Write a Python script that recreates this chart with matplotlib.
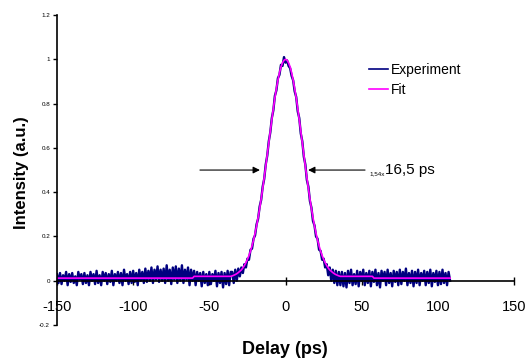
import numpy as np
import matplotlib
matplotlib.use("Agg")
import matplotlib.pyplot as plt

plt.rcParams['font.family'] = ['Liberation Sans', 'DejaVu Sans']

# delay grid of the measured trace (1 ps steps)
delay = np.arange(-150, 109)

exp_left = [
    0.03, -0.01, 0.035, -0.015, 0.025, 0.00, 0.04, -0.02, 0.03, -0.005,
    0.035, -0.01, 0.02, -0.02, 0.04, 0.005, 0.03, -0.015, 0.035, -0.01,
    0.025, -0.02, 0.04, 0.00, 0.03, -0.015, 0.045, -0.01, 0.025, -0.02,
    0.04, 0.00, 0.035, -0.015, 0.03, -0.005, 0.045, -0.02, 0.03, 0.00,
    0.04, -0.01, 0.035, -0.02, 0.05, 0.00, 0.03, -0.015, 0.04, -0.01,
    0.045, -0.005, 0.035, -0.02, 0.05, 0.00, 0.04, -0.01, 0.055, -0.005,
    0.045, 0.00, 0.06, -0.01, 0.05, 0.005, 0.065, -0.005, 0.05, 0.00,
    0.055, -0.01, 0.07, 0.00, 0.05, -0.015, 0.06, 0.005, 0.065, -0.01,
    0.055, 0.00, 0.07, -0.01, 0.05, 0.005, 0.06, -0.02, 0.05, 0.00,
    0.045, -0.02, 0.04, 0.00, 0.035, -0.025, 0.04, -0.01, 0.03, -0.02,
    0.04, -0.015, 0.03, 0.00, 0.045, -0.025, 0.035, -0.01, 0.04, -0.03,
    0.035, -0.015, 0.045, -0.02, 0.04,
]
exp_peak = [
    0.04, -0.01, 0.05, 0.00, 0.055, 0.02, 0.06, 0.035, 0.075, 0.06,
    0.10, 0.095, 0.14, 0.145, 0.19, 0.205, 0.255, 0.28, 0.335, 0.365,
    0.425, 0.46, 0.525, 0.565, 0.63, 0.67, 0.735, 0.77, 0.835, 0.86,
    0.915, 0.93, 0.975, 0.97, 1.01, 0.985, 0.995, 0.97, 0.96, 0.925,
    0.905, 0.855, 0.83, 0.765, 0.735, 0.665, 0.63, 0.56, 0.525, 0.455,
    0.425, 0.36, 0.33, 0.27, 0.25, 0.20, 0.19, 0.14, 0.135, 0.095,
    0.10, 0.06, 0.075, 0.025, 0.06, 0.00, 0.05, -0.01, 0.045, -0.02,
    0.04,
]
exp_right = [
    -0.02, 0.04, -0.025, 0.035, -0.03, 0.045, -0.01, 0.05, -0.02, 0.03,
    -0.015, 0.045, -0.025, 0.04, 0.00, 0.05, -0.02, 0.035, -0.01, 0.045,
    -0.025, 0.04, -0.005, 0.05, -0.02, 0.035, -0.03, 0.045, 0.00, 0.04,
    -0.02, 0.05, -0.01, 0.035, -0.025, 0.045, -0.005, 0.04, -0.02, 0.05,
    -0.015, 0.04, 0.00, 0.055, -0.02, 0.035, -0.01, 0.045, -0.025, 0.04,
    -0.01, 0.05, -0.02, 0.035, 0.00, 0.045, -0.02, 0.04, -0.01, 0.05,
    -0.025, 0.035, -0.005, 0.045, -0.02, 0.04, -0.015, 0.05, -0.01, 0.035,
    -0.02, 0.04, 0.00,
]
experiment = exp_left + exp_peak + exp_right

# fit curve
fit_x = [-150, -61, -60, -36] + list(range(-35, 36)) + [36, 57, 58, 108]
fit_peak = [
    0.022, 0.025, 0.028, 0.032, 0.037, 0.043, 0.049, 0.058, 0.069, 0.082,
    0.097, 0.114, 0.134, 0.158, 0.184, 0.215, 0.248, 0.286, 0.326, 0.370,
    0.417, 0.466, 0.517, 0.570, 0.623, 0.676, 0.728, 0.778, 0.826, 0.868,
    0.906, 0.939, 0.966, 0.984, 0.996, 1.000, 0.996, 0.984, 0.966, 0.939,
    0.906, 0.868, 0.826, 0.778, 0.728, 0.676, 0.623, 0.570, 0.517, 0.466,
    0.417, 0.370, 0.326, 0.286, 0.248, 0.215, 0.184, 0.158, 0.134, 0.114,
    0.097, 0.082, 0.069, 0.058, 0.049, 0.043, 0.037, 0.032, 0.028, 0.025,
    0.022,
]
fit_y = [0.012, 0.012, 0.02, 0.02] + fit_peak + [0.02, 0.02, 0.012, 0.012]

x_ticks = [-150, -100, -50, 0, 50, 100, 150]
y_ticks = [-0.2, 0, 0.2, 0.4, 0.6, 0.8, 1, 1.2]
y_labels = ['-0.2', '0', '0.2', '0.4', '0.6', '0.8', '1', '1.2']

fig = plt.figure(figsize=(5.3, 3.58), dpi=100)
ax = fig.add_axes([0.1075, 0.092, 0.8625, 0.866])

ax.plot(delay, experiment, color='#000080', lw=1.7, label='Experiment')
ax.plot(fit_x, fit_y, color='#ff00ff', lw=1.2, label='Fit')

ax.set_xlim(-150, 150)
ax.set_ylim(-0.2, 1.2)
ax.spines['top'].set_visible(False)
ax.spines['right'].set_visible(False)
ax.spines['bottom'].set_position(('data', 0))
ax.spines['left'].set_linewidth(1.2)
ax.spines['bottom'].set_linewidth(1.2)

ax.set_xticks(x_ticks)
ax.set_xticklabels([str(t) for t in x_ticks], fontsize=10.5)
ax.tick_params(axis='x', direction='inout', length=6, width=1, pad=11)
ax.set_yticks(y_ticks)
ax.set_yticklabels(y_labels, fontsize=4.5)
ax.tick_params(axis='y', direction='out', length=3, width=1, pad=2)

# FWHM arrows
ax.annotate('', xy=(-15, 0.5), xytext=(-58, 0.5),
            arrowprops=dict(arrowstyle='-|>', color='black', lw=0.8,
                            mutation_scale=10))
ax.annotate('', xy=(13, 0.5), xytext=(54, 0.5),
            arrowprops=dict(arrowstyle='-|>', color='black', lw=0.8,
                            mutation_scale=10))
ax.text(65, 0.485, '1,54x', fontsize=4.5, va='center', ha='right')
ax.text(65.5, 0.5, '16,5 ps', fontsize=11, va='center', ha='left')

leg = ax.legend(loc='upper left', bbox_to_anchor=(362 / 530, 1 - 56 / 358),
                bbox_transform=fig.transFigure, frameon=False, fontsize=10,
                handlelength=1.4, handletextpad=0.2, borderpad=0,
                labelspacing=0.45)
for h in leg.get_lines():
    h.set_linewidth(1.2)

fig.text(22 / 530, 1 - 173 / 358, 'Intensity (a.u.)', rotation=90,
         fontsize=12, fontweight='bold', ha='center', va='center')
fig.text(285 / 530, 1 - 349 / 358, 'Delay (ps)', fontsize=13,
         fontweight='bold', ha='center', va='center')

fig.savefig('out.png', dpi=100)
